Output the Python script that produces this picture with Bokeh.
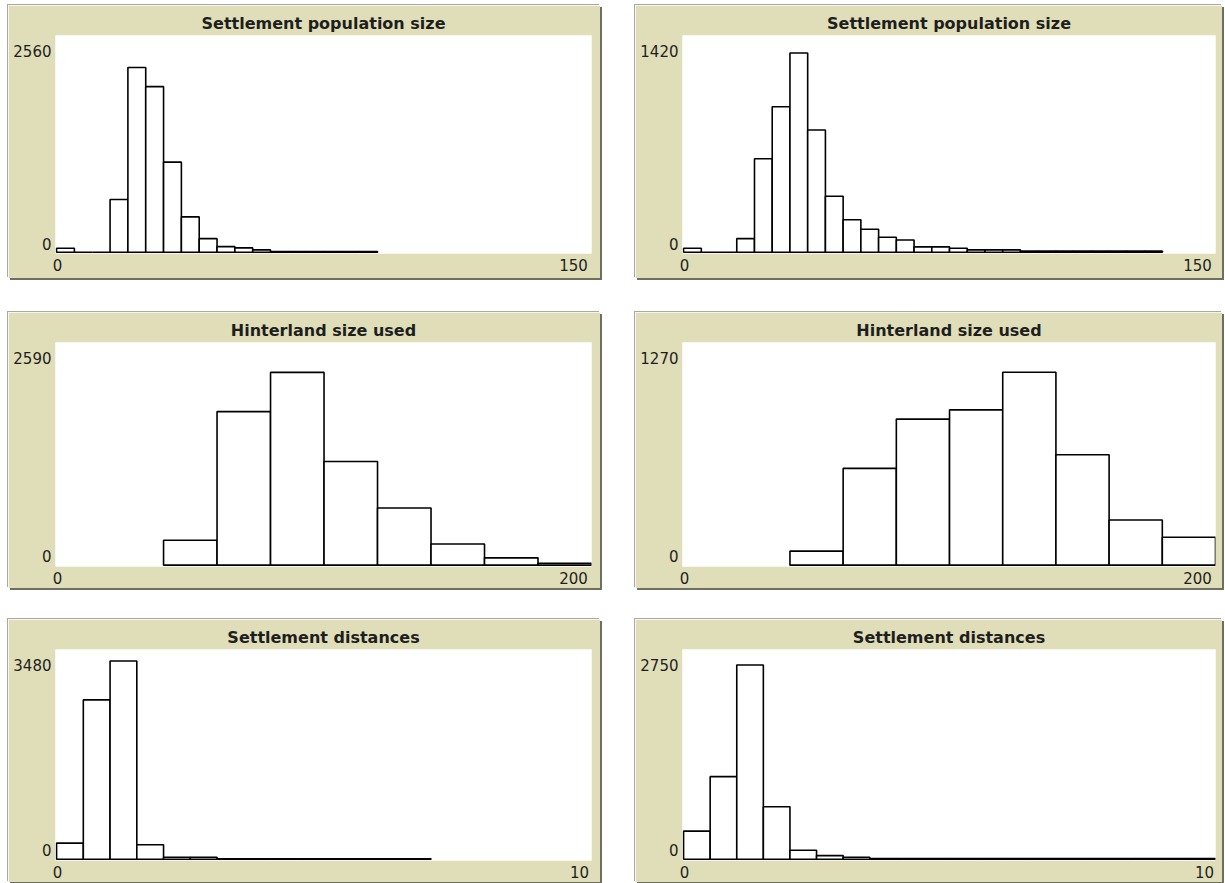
from bokeh.plotting import figure
from bokeh.layouts import column, row
from bokeh.models import Range1d, FixedTicker, Spacer
from bokeh.embed import file_html
from bokeh.resources import INLINE

# ---------------- data ----------------
titles = ["Settlement population size", "Settlement population size",
          "Hinterland size used", "Hinterland size used",
          "Settlement distances", "Settlement distances"]

# Settlement population size, left run (bins of 5 starting at 0)
pop_left_counts = [47, 0, 0, 623, 2182, 1956, 1064, 417, 160, 66, 51, 27,
                   8, 8, 8, 8, 8, 8]
# Settlement population size, right run (bins of 5 starting at 0)
pop_right_counts = [26, 0, 0, 89, 612, 953, 1305, 801, 367, 213, 150, 98,
                    80, 35, 35, 26, 15, 15, 15, 7, 7, 7, 7, 7, 7, 7, 7]
# Hinterland size used (bins of 20 starting at 40)
hint_left_counts = [290, 1786, 2242, 1206, 665, 247, 85, 23]
hint_right_counts = [80, 552, 833, 886, 1100, 630, 258, 159]
# Settlement distances (bins of 0.5 starting at 0)
dist_left_counts = [268, 2644, 3289, 240, 33, 33, 8, 8, 8, 8, 8, 8, 8, 8]
dist_right_counts = [368, 1083, 2546, 689, 117, 48, 26, 9, 9, 9, 9, 9, 9,
                     9, 9, 9, 9, 9, 9, 9]

bin_starts = [0, 0, 40, 40, 0, 0]
bin_widths = [5, 5, 20, 20, 0.5, 0.5]
x_max = [150, 150, 200, 200, 10, 10]
y_max = [2560, 1420, 2590, 1270, 3480, 2750]

x_tick_labels = [["0", "150"], ["0", "150"], ["0", "200"], ["0", "200"],
                 ["0", "10"], ["0", "10"]]
y_tick_labels = [["0", "2560"], ["0", "1420"], ["0", "2590"], ["0", "1270"],
                 ["0", "3480"], ["0", "2750"]]

counts_all = [pop_left_counts, pop_right_counts, hint_left_counts,
              hint_right_counts, dist_left_counts, dist_right_counts]

# ---------------- styling / layout ----------------
TAN = "#E0DEB9"
TXT = "#1e1e1e"
FONT = "DejaVu Sans"
widths = [592, 587]
right_borders = [9, 7]
heights = [273, 276, 263]
bottom_borders = [25, 22, 22]
right_label_off = [18, 18, 18, 18, 12, 11]


def make_panel(i):
    width = widths[i % 2]
    height = heights[i // 2]
    ml, mr, mt, mb = 47, right_borders[i % 2], 30, bottom_borders[i // 2]
    fw = width - ml - mr
    fh = height - mt - max(mb, 23)
    xm, ym = x_max[i], y_max[i]
    x0 = -xm * 0.002
    y0 = -ym * 0.006
    p = figure(width=width, height=height, output_backend="svg",
               toolbar_location=None,
               x_range=Range1d(x0, xm), y_range=Range1d(y0, ym),
               min_border_left=ml, min_border_right=mr,
               min_border_top=mt, min_border_bottom=mb)
    cnt = counts_all[i]
    left = [bin_starts[i] + k * bin_widths[i] for k in range(len(cnt))]
    right = [l + bin_widths[i] for l in left]
    p.quad(left=left, right=right, bottom=0, top=cnt,
           fill_color="white", line_color="black", line_width=1.6)

    p.background_fill_color = "white"
    p.border_fill_color = TAN
    p.outline_line_color = None
    p.grid.visible = False

    p.title.text = titles[i]
    p.title.align = "center"
    p.title.text_font = FONT
    p.title.text_font_style = "bold"
    p.title.text_font_size = "16px"
    p.title.text_color = TXT
    p.title.standoff = 6

    # tick positions chosen so that labels sit as NetLogo places them
    xt0 = x0 + (xm - x0) * 2.0 / fw
    xt1 = xm - (xm - x0) * right_label_off[i] / fw
    yt0 = y0 + (ym - y0) * 10.0 / fh
    yt1 = ym - (ym - y0) * 15.0 / fh
    p.xaxis.ticker = FixedTicker(ticks=[xt0, xt1])
    p.xaxis.major_label_overrides = {xt0: x_tick_labels[i][0], xt1: x_tick_labels[i][1]}
    p.yaxis.ticker = FixedTicker(ticks=[yt0, yt1])
    p.yaxis.major_label_overrides = {yt0: y_tick_labels[i][0], yt1: y_tick_labels[i][1]}

    for ax in (p.xaxis, p.yaxis):
        ax.axis_line_color = None
        ax.major_tick_line_color = None
        ax.minor_tick_line_color = None
        ax.major_tick_out = 0
        ax.major_tick_in = 0
        ax.major_label_text_font = FONT
        ax.major_label_text_font_size = "15px"
        ax.major_label_text_color = TXT
    p.xaxis.major_label_standoff = 5
    p.yaxis.major_label_standoff = 4

    p.styles = {"box-shadow": "2px 2px 0 #6f6e62, -1px -1px 0 #a8a8a8"}
    return p


panels = [make_panel(i) for i in range(6)]
layout = column(
    Spacer(height=5),
    row(Spacer(width=8), panels[0], Spacer(width=35), panels[1]),
    Spacer(height=34),
    row(Spacer(width=8), panels[2], Spacer(width=35), panels[3]),
    Spacer(height=31),
    row(Spacer(width=8), panels[4], Spacer(width=35), panels[5]),
)

open("out.html", "w").write(file_html(layout, INLINE))
